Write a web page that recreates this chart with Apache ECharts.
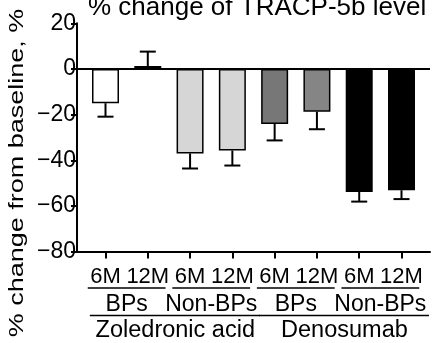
<!DOCTYPE html>
<html><head><meta charset="utf-8">
<script src="https://cdn.jsdelivr.net/npm/echarts@6/dist/echarts.min.js"></script>
<style>html,body{margin:0;padding:0;background:#fff}#c{width:437px;height:343px}</style>
</head><body><div id="c"></div>
<script>
// ---- data ----
const timeLabels = ['6M', '12M', '6M', '12M', '6M', '12M', '6M', '12M'];
const classLabels = ['BPs', 'Non-BPs', 'BPs', 'Non-BPs'];
const drugLabels = ['Zoledronic acid', 'Denosumab'];
const values = [-15, 1.3, -37, -35.7, -24.1, -18.7, -53.9, -53.1];
const errors = [5.9, 6.3, 6.6, 6.6, 7.2, 7.7, 4.2, 3.9];
const barColors = ['#ffffff', '#ffffff', '#d6d6d6', '#d6d6d6', '#777777', '#858585', '#000000', '#000000'];
const yMin = -80, yMax = 20, yInterval = 20;
const titleText = '% change of TRACP-5b level';
const yTitle = '% change from baseline, %';

// ---- chart ----
const FONT = '"Liberation Sans", Arial, Helvetica, sans-serif';
const xs = values.map((v, i) => i);
const XMIN = -0.674, XMAX = 7.674;
const chart = echarts.init(document.getElementById('c'), null, { renderer: 'canvas' });
const txt = (size) => ({ fontFamily: FONT, fontSize: size, color: '#000' });
const axisBase = { type: 'value', min: XMIN, max: XMAX, position: 'bottom', splitLine: { show: false } };

const option = {
  animation: false,
  backgroundColor: '#fff',
  title: {
    text: titleText, left: 88, top: -5, padding: 0,
    textStyle: { fontFamily: FONT, fontSize: 26, fontWeight: 'normal', color: '#000' }
  },
  grid: { left: 77, right: 7, top: 23.3, bottom: 86.3, containLabel: false },
  xAxis: [
    Object.assign({}, axisBase, {
      axisLine: { show: true, onZero: false, lineStyle: { color: '#000', width: 2 } },
      axisTick: { show: true, length: 7, lineStyle: { color: '#000', width: 2 }, customValues: xs },
      axisLabel: Object.assign({ customValues: xs, margin: 14.2, formatter: v => timeLabels[Math.round(v)] }, txt(22))
    }),
    Object.assign({}, axisBase, {
      axisLine: { show: false, onZero: false }, axisTick: { show: false },
      axisLabel: Object.assign({ customValues: [0.5, 2.5, 4.5, 6.5], margin: 41.3, formatter: v => classLabels[Math.round((v - 0.5) / 2)] }, txt(23))
    }),
    Object.assign({}, axisBase, {
      axisLine: { show: false, onZero: false }, axisTick: { show: false },
      axisLabel: Object.assign({ customValues: [1.65, 5.65], margin: 67.4, formatter: v => drugLabels[v < 4 ? 0 : 1] }, txt(23.5))
    })
  ],
  yAxis: {
    type: 'value', min: yMin, max: yMax, interval: yInterval,
    axisLine: { show: true, onZero: false, lineStyle: { color: '#000', width: 2 } },
    axisTick: { show: true, length: 6, lineStyle: { color: '#000', width: 2 } },
    axisLabel: Object.assign({ margin: 1, formatter: v => String(v).replace('-', '\u2212') }, txt(23)),
    splitLine: { show: false }
  },
  series: [
    {
      type: 'bar', xAxisIndex: 0, yAxisIndex: 0, barWidth: 27,
      itemStyle: { borderColor: '#000', borderWidth: 1.5 },
      data: values.map((v, i) => ({ value: [i, v], itemStyle: { color: barColors[i] } })),
      markLine: {
        silent: true, symbol: 'none', label: { show: false },
        lineStyle: { color: '#000', width: 2, type: 'solid' },
        data: [{ yAxis: 0 }]
      }
    },
    {
      type: 'custom', xAxisIndex: 0, yAxisIndex: 0, z: 3,
      data: values.map((v, i) => [i, v, errors[i]]),
      renderItem: (params, api) => {
        const x = api.value(0), v = api.value(1), e = api.value(2);
        const end = v >= 0 ? v + e : v - e;
        const p0 = api.coord([x, v]), p1 = api.coord([x, end]);
        const cap = 8;
        return {
          type: 'group', children: [
            { type: 'line', shape: { x1: p0[0], y1: p0[1], x2: p1[0], y2: p1[1] }, style: { stroke: '#000', lineWidth: 2 } },
            { type: 'line', shape: { x1: p1[0] - cap, y1: p1[1], x2: p1[0] + cap, y2: p1[1] }, style: { stroke: '#000', lineWidth: 2 } }
          ]
        };
      }
    }
  ]
};
chart.setOption(option);

// underlines of grouped category labels, positioned through the axis scale
const px = (x) => chart.convertToPixel({ gridIndex: 0 }, [x, yMin]);
const row1 = [[0, 1], [2, 3], [4, 5], [6, 7]];
const row2 = [[0, 3], [4, 7]];
const gfx = [];
row1.forEach(([a, b]) => {
  const p = px(a - 0.42), q = px(b + 0.42);
  gfx.push({ type: 'line', shape: { x1: p[0], y1: p[1] + 36.5, x2: q[0], y2: q[1] + 36.5 }, style: { stroke: '#000', lineWidth: 1.5 } });
});
row2.forEach(([a, b]) => {
  const p = px(a - 0.37), q = px(b + 0.65);
  gfx.push({ type: 'line', shape: { x1: p[0], y1: p[1] + 64, x2: q[0], y2: q[1] + 64 }, style: { stroke: '#000', lineWidth: 1.5 } });
});
// y-axis title (drawn wide, as in the reference)
gfx.push({
  type: 'text', x: 17.5, y: 173, rotation: Math.PI / 2, scaleX: 1.35,
  style: { text: yTitle, fontFamily: FONT, fontSize: 20, fill: '#000', align: 'center', verticalAlign: 'middle' }
});
chart.setOption({ graphic: gfx });
</script></body></html>
